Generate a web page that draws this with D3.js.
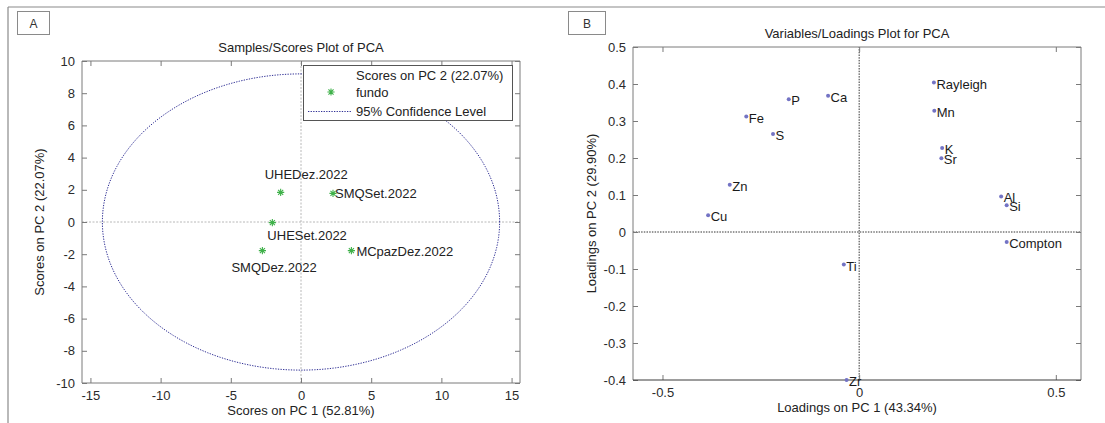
<!DOCTYPE html>
<html>
<head>
<meta charset="utf-8">
<script src="https://cdn.jsdelivr.net/npm/d3@7"></script>
<style>
  html, body { margin: 0; padding: 0; background: #fff; }
  svg { display: block; font-family: "Liberation Sans", Arial, sans-serif; }
</style>
</head>
<body>
<svg id="chart" width="1105" height="423"></svg>
<script>
// ---- Scores (panel A) ----
const sampleNames = ["UHEDez.2022", "SMQSet.2022", "UHESet.2022", "SMQDez.2022", "MCpazDez.2022"];
const pc1Scores = [-1.45, 2.28, -2.04, -2.75, 3.59];
const pc2Scores = [1.84, 1.78, -0.04, -1.78, -1.78];
const confidenceRadii = [14.15, 9.2];           // 95% ellipse semi-axes (PC1, PC2)
const scoreXTicks = [-15, -10, -5, 0, 5, 10, 15];
const scoreYTicks = [-10, -8, -6, -4, -2, 0, 2, 4, 6, 8, 10];
const legendLines = ["Scores on PC 2 (22.07%)", "fundo", "95% Confidence Level"];

// ---- Loadings (panel B) ----
const variableNames = ["Rayleigh", "Mn", "K", "Sr", "Al", "Si", "Compton", "Ca", "P", "Fe", "S", "Zn", "Cu", "Ti", "Zr"];
const pc1Loadings = [0.190, 0.191, 0.211, 0.209, 0.361, 0.375, 0.375, -0.079, -0.179, -0.287, -0.219, -0.329, -0.384, -0.039, -0.032];
const pc2Loadings = [0.404, 0.328, 0.227, 0.199, 0.096, 0.072, -0.027, 0.368, 0.359, 0.312, 0.265, 0.128, 0.045, -0.088, -0.400];
const loadingXTicks = [-0.5, 0, 0.5];
const loadingYTicks = [-0.4, -0.3, -0.2, -0.1, 0, 0.1, 0.2, 0.3, 0.4, 0.5];

const svg = d3.select("#chart");
const FONT = 13;
const fmt = d => (d === 0 ? "0" : String(+d.toFixed(2)).replace("\u2212", "-"));

// outer figure frame (top and left edges)
svg.append("line").attr("x1", 8).attr("x2", 1105).attr("y1", 7).attr("y2", 7)
  .attr("stroke", "#8a8a8a").attr("stroke-width", 1.2);
svg.append("line").attr("x1", 8).attr("x2", 8).attr("y1", 7).attr("y2", 423)
  .attr("stroke", "#8a8a8a").attr("stroke-width", 1.2);

function panelTag(x, w, letter) {
  svg.append("rect").attr("x", x + 0.5).attr("y", 11.5).attr("width", w).attr("height", 23)
    .attr("fill", "#fff").attr("stroke", "#8a8a8a");
  svg.append("text").attr("x", x + w / 2 + 0.5).attr("y", 27.5).attr("text-anchor", "middle")
    .attr("font-size", 12).attr("fill", "#333").text(letter);
}
panelTag(17, 32, "A");
panelTag(568, 37, "B");

// Generic boxed axes with inward ticks on all four sides
function drawAxes(g, x, y, xTicks, yTicks, opts) {
  const [x0, x1] = x.range();
  const [y1, y0] = y.range();
  const tick = 5;
  const axisColor = "#7a7a7a";

  const bottom = g.append("g").attr("transform", `translate(0,${y1})`)
    .call(d3.axisBottom(x).tickValues(xTicks).tickFormat(fmt).tickSizeInner(-tick).tickSizeOuter(0).tickPadding(8));
  const top = g.append("g").attr("transform", `translate(0,${y0})`)
    .call(d3.axisTop(x).tickValues(xTicks).tickFormat("").tickSizeInner(-tick).tickSizeOuter(0));
  const left = g.append("g").attr("transform", `translate(${x0},0)`)
    .call(d3.axisLeft(y).tickValues(yTicks).tickFormat(fmt).tickSizeInner(-tick).tickSizeOuter(0).tickPadding(7));
  const right = g.append("g").attr("transform", `translate(${x1},0)`)
    .call(d3.axisRight(y).tickValues(yTicks).tickFormat("").tickSizeInner(-tick).tickSizeOuter(0));

  [bottom, top, left, right].forEach(a => {
    a.select(".domain").remove();
    a.selectAll(".tick line").attr("stroke", axisColor);
    a.selectAll("text").attr("font-size", FONT).attr("fill", "#2b2b2b")
      .attr("font-family", "Liberation Sans, Arial, sans-serif");
  });

  // plot box
  g.append("path")
    .attr("d", `M${x0},${y1}V${y0}H${x1}V${y1}`)
    .attr("fill", "none").attr("stroke", axisColor).attr("stroke-width", 1);
  g.append("line").attr("x1", x0).attr("x2", x1).attr("y1", y1).attr("y2", y1)
    .attr("stroke", opts.bottomColor || axisColor).attr("stroke-width", 1);

  // titles
  g.append("text").attr("x", (x0 + x1) / 2).attr("y", y0 - 9).attr("text-anchor", "middle")
    .attr("font-size", FONT).attr("fill", "#222").text(opts.title);
  g.append("text").attr("x", (x0 + x1) / 2).attr("y", y1 + 32).attr("text-anchor", "middle")
    .attr("font-size", FONT).attr("fill", "#222").text(opts.xLabel);
  g.append("text").attr("transform", `translate(${opts.yLabelX},${(y0 + y1) / 2}) rotate(-90)`)
    .attr("text-anchor", "middle").attr("font-size", FONT).attr("fill", "#222").text(opts.yLabel);
}

// MATLAB-style asterisk marker
function asteriskPath(r) {
  const d = r * Math.SQRT1_2;
  return `M0,${-r}V${r}M${-r},0H${r}M${-d},${-d}L${d},${d}M${-d},${d}L${d},${-d}`;
}

// ================= Panel A: scores =================
{
  const g = svg.append("g");
  const x = d3.scaleLinear().domain([-15.6, 15.6]).range([82, 520]);
  const y = d3.scaleLinear().domain([-10, 10]).range([383, 61]);

  // zero reference lines
  g.append("line").attr("x1", x(0)).attr("x2", x(0)).attr("y1", y(-10)).attr("y2", y(10))
    .attr("stroke", "#b8b8b8").attr("stroke-dasharray", "2,1.5");
  g.append("line").attr("x1", x.range()[0]).attr("x2", x.range()[1]).attr("y1", y(0)).attr("y2", y(0))
    .attr("stroke", "#b8b8b8").attr("stroke-dasharray", "2,1.5");

  drawAxes(g, x, y, scoreXTicks, scoreYTicks, {
    title: "Samples/Scores Plot of PCA",
    xLabel: "Scores on PC 1 (52.81%)",
    yLabel: "Scores on PC 2 (22.07%)",
    yLabelX: 44
  });

  // 95% confidence ellipse
  const ell = d3.range(0, 361, 2).map(a => {
    const t = a * Math.PI / 180;
    return [x(confidenceRadii[0] * Math.cos(t)), y(confidenceRadii[1] * Math.sin(t))];
  });
  g.append("path").attr("d", d3.line()(ell)).attr("fill", "none")
    .attr("stroke", "#2f2f95").attr("stroke-width", 1).attr("stroke-dasharray", "1.3,1.3");

  // sample points
  const samples = sampleNames.map((n, i) => ({ n, px: pc1Scores[i], py: pc2Scores[i] }));
  g.selectAll("path.star").data(samples).join("path").attr("class", "star")
    .attr("transform", d => `translate(${x(d.px)},${y(d.py)})`)
    .attr("d", asteriskPath(3.6)).attr("stroke", "#3fb14a").attr("stroke-width", 1.1).attr("fill", "none");

  // label placement relative to each marker (dx, dy to text start / baseline)
  const labelPos = {
    "UHEDez.2022": [-16, -13],
    "SMQSet.2022": [2, 4.5],
    "UHESet.2022": [-5, 17.5],
    "SMQDez.2022": [-31, 21],
    "MCpazDez.2022": [5, 5.5]
  };
  g.selectAll("text.slab").data(samples).join("text").attr("class", "slab")
    .attr("x", d => x(d.px) + labelPos[d.n][0])
    .attr("y", d => y(d.py) + labelPos[d.n][1])
    .attr("font-size", FONT).attr("fill", "#222").text(d => d.n);

  // legend
  const lg = g.append("g");
  lg.append("rect").attr("x", 303.5).attr("y", 65.5).attr("width", 209).attr("height", 55)
    .attr("fill", "#fff").attr("stroke", "#555");
  lg.append("text").attr("x", 356).attr("y", 80).attr("font-size", FONT).attr("fill", "#222").text(legendLines[0]);
  lg.append("text").attr("x", 356).attr("y", 96.5).attr("font-size", FONT).attr("fill", "#222").text(legendLines[1]);
  lg.append("text").attr("x", 356).attr("y", 116).attr("font-size", FONT).attr("fill", "#222").text(legendLines[2]);
  lg.append("path").attr("transform", "translate(331,92)").attr("d", asteriskPath(3.6))
    .attr("stroke", "#3fb14a").attr("stroke-width", 1.1).attr("fill", "none");
  lg.append("line").attr("x1", 308).attr("x2", 351).attr("y1", 111.5).attr("y2", 111.5)
    .attr("stroke", "#2f2f95").attr("stroke-dasharray", "1.3,1.3");
}

// ================= Panel B: loadings =================
{
  const g = svg.append("g");
  const x = d3.scaleLinear().domain([-0.575, 0.564]).range([633, 1081]);
  const y = d3.scaleLinear().domain([-0.4, 0.5]).range([380, 47]);

  g.append("line").attr("x1", x(0)).attr("x2", x(0)).attr("y1", y(-0.4)).attr("y2", y(0.5))
    .attr("stroke", "#333").attr("stroke-dasharray", "1.5,1.2");
  g.append("line").attr("x1", x.range()[0]).attr("x2", x.range()[1]).attr("y1", y(0)).attr("y2", y(0))
    .attr("stroke", "#333").attr("stroke-dasharray", "1.5,1.2");

  drawAxes(g, x, y, loadingXTicks, loadingYTicks, {
    title: "Variables/Loadings Plot for PCA",
    xLabel: "Loadings on PC 1 (43.34%)",
    yLabel: "Loadings on PC 2 (29.90%)",
    yLabelX: 596,
    bottomColor: "#3a3a3a"
  });

  const vars = variableNames.map((n, i) => ({ n, px: pc1Loadings[i], py: pc2Loadings[i] }));
  g.selectAll("circle.v").data(vars).join("circle").attr("class", "v")
    .attr("cx", d => x(d.px)).attr("cy", d => y(d.py)).attr("r", 2)
    .attr("fill", "#7373c4");
  g.selectAll("text.vlab").data(vars).join("text").attr("class", "vlab")
    .attr("x", d => x(d.px) + 2.5).attr("y", d => y(d.py) + 6)
    .attr("font-size", FONT).attr("fill", "#1a1a1a").text(d => d.n);
}
</script>
</body>
</html>
